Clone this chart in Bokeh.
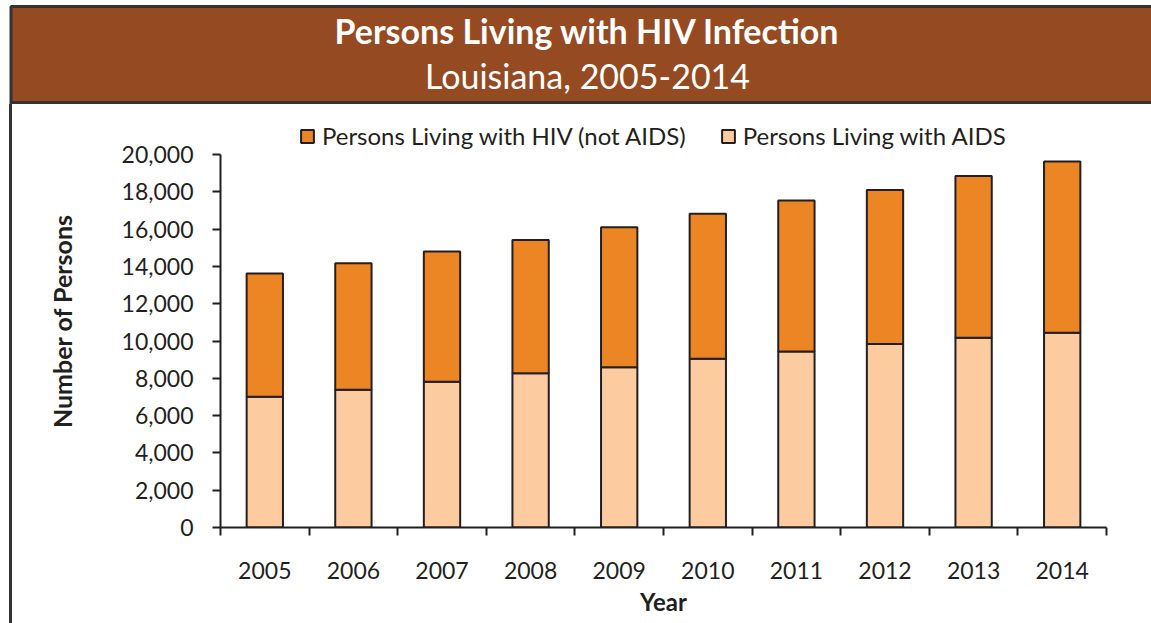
from bokeh.core.properties import value
from bokeh.embed import file_html
from bokeh.layouts import column, row
from bokeh.models import (ColumnDataSource, Div, FixedTicker, Legend, LegendItem,
                          NumeralTickFormatter)
from bokeh.plotting import figure
from bokeh.resources import INLINE

# Louisiana HIV surveillance, persons living with HIV infection by year
years = [2005, 2006, 2007, 2008, 2009, 2010, 2011, 2012, 2013, 2014]
living_with_aids = [7010, 7390, 7820, 8270, 8590, 9050, 9440, 9840, 10170, 10440]
living_with_hiv_not_aids = [6610, 6780, 6980, 7150, 7510, 7770, 8090, 8260, 8680, 9180]
y_ticks = [0, 2000, 4000, 6000, 8000, 10000, 12000, 14000, 16000, 18000, 20000]

TITLE = "Persons Living with HIV Infection"
SUBTITLE = "Louisiana, 2005-2014"
LABEL_HIV = "Persons Living with HIV (not AIDS)"
LABEL_AIDS = "Persons Living with AIDS"

INK = "#231F20"
FRAME = "#333333"
BROWN = "#954A21"
ORANGE = "#EC8523"
PEACH = "#FDCBA0"
FONT = "Lato"

W, H = 1151, 623
BANNER_H = 104
RULE_X, RULE_W = 9, 3
CHART_W, CHART_H = W - RULE_X - RULE_W, H - BANNER_H

# chart frame geometry (pixels inside the chart canvas)
AXIS_PX = 373          # height of the 0..20,000 span
LEGEND_BAND_PX = 40    # room above the axis top for the legend row
FRAME_PX = AXIS_PX + LEGEND_BAND_PX
BOTTOM_PX = 96


def pixel_canvas(width, height):
    """A figure whose frame is the whole canvas, in pixel units, y downwards."""
    f = figure(width=width, height=height, x_range=(0, width), y_range=(height, 0),
               output_backend="svg", toolbar_location=None, title=None,
               x_axis_type=None, y_axis_type=None, min_border=0,
               background_fill_color="white", border_fill_color="white")
    f.outline_line_color = None
    f.grid.visible = False
    return f


# --- title banner ---------------------------------------------------------
rule_mid = RULE_X + RULE_W / 2
banner = pixel_canvas(W, BANNER_H)
banner.quad(left=[rule_mid], right=[W + 20], top=[6], bottom=[102],
            fill_color=BROWN, line_color=FRAME, line_width=RULE_W)
banner.segment(x0=[rule_mid], y0=[102], x1=[rule_mid], y1=[BANNER_H + 2],
               line_color=FRAME, line_width=RULE_W)
banner.text(x=[587], y=[30], text=[TITLE], text_align="center",
            text_baseline="alphabetic", text_color="white",
            text_font=value(FONT), text_font_style="bold", text_font_size="34px")
banner.text(x=[587], y=[75], text=[SUBTITLE], text_align="center",
            text_baseline="alphabetic", text_color="white",
            text_font=value(FONT), text_font_size="34px")

# --- left page rule -------------------------------------------------------
gap = Div(text="", width=RULE_X, height=CHART_H, margin=0)
rule = Div(text="", width=RULE_W, height=CHART_H, margin=0,
           styles={"background-color": FRAME})

# --- stacked bar chart ----------------------------------------------------
source = ColumnDataSource(dict(
    year=years,
    aids=living_with_aids,
    hiv=living_with_hiv_not_aids,
))

y_top = y_ticks[-1] * FRAME_PX / AXIS_PX
p = figure(
    width=CHART_W, height=CHART_H,
    x_range=(years[0] - 0.5, years[-1] + 0.5),
    y_range=(y_ticks[0], y_top),
    output_backend="svg", toolbar_location=None, title=None,
    min_border_left=220 - RULE_X - RULE_W, min_border_right=45,
    min_border_top=CHART_H - BOTTOM_PX - FRAME_PX, min_border_bottom=BOTTOM_PX,
    background_fill_color="white", border_fill_color="white",
)
p.outline_line_color = None
p.xgrid.visible = False
p.ygrid.visible = False

bars = p.vbar_stack(
    ["aids", "hiv"], x="year", width=0.41, source=source,
    fill_color=[PEACH, ORANGE], line_color=INK, line_width=2,
)

# y axis: thousands with commas, outward ticks, line stops at 20,000
p.yaxis.ticker = FixedTicker(ticks=y_ticks, minor_ticks=[])
p.yaxis.formatter = NumeralTickFormatter(format="0,0")
p.yaxis.bounds = (y_ticks[0], y_ticks[-1])
p.yaxis.major_tick_in = 0
p.yaxis.major_tick_out = 8
p.yaxis.minor_tick_in = 0
p.yaxis.minor_tick_out = 0
p.yaxis.major_label_standoff = 19
p.yaxis.major_tick_line_color = INK
p.yaxis.axis_label = "Number of Persons"
p.yaxis.axis_label_standoff = 42
p.yaxis.axis_label_text_font_size = "25px"

# x axis: year labels at bar centres, tick marks between the years
bounds = [y - 0.5 for y in years] + [years[-1] + 0.5]
p.xaxis.ticker = FixedTicker(ticks=years, minor_ticks=bounds)
p.xaxis.major_tick_line_color = None
p.xaxis.major_tick_in = 0
p.xaxis.major_tick_out = 0
p.xaxis.minor_tick_in = 0
p.xaxis.minor_tick_out = 8
p.xaxis.major_label_standoff = 26
p.xaxis.axis_label = "Year"
p.xaxis.axis_label_standoff = 5
p.xaxis.axis_label_text_font_size = "24px"

for ax in (p.xaxis, p.yaxis):
    ax.axis_line_color = INK
    ax.axis_line_width = 2
    ax.major_tick_line_width = 2
    ax.minor_tick_line_width = 2
    ax.minor_tick_line_color = INK
    ax.major_label_text_font = FONT
    ax.major_label_text_font_size = "23px"
    ax.major_label_text_color = INK
    ax.axis_label_text_font = FONT
    ax.axis_label_text_font_style = "bold"
    ax.axis_label_text_color = INK

legend = Legend(
    items=[LegendItem(label=LABEL_HIV, renderers=[bars[1]]),
           LegendItem(label=LABEL_AIDS, renderers=[bars[0]])],
    orientation="horizontal", location=(79, AXIS_PX + 4),
    label_text_font=FONT, label_text_font_size="24px", label_text_color=INK,
    glyph_width=16, glyph_height=16, label_standoff=7, spacing=34,
    padding=0, margin=0, border_line_color=None, background_fill_alpha=0,
)
p.add_layout(legend, "center")

layout = column(banner, row(gap, rule, p, spacing=0), spacing=0)
open("out.html", "w").write(file_html(layout, INLINE))
